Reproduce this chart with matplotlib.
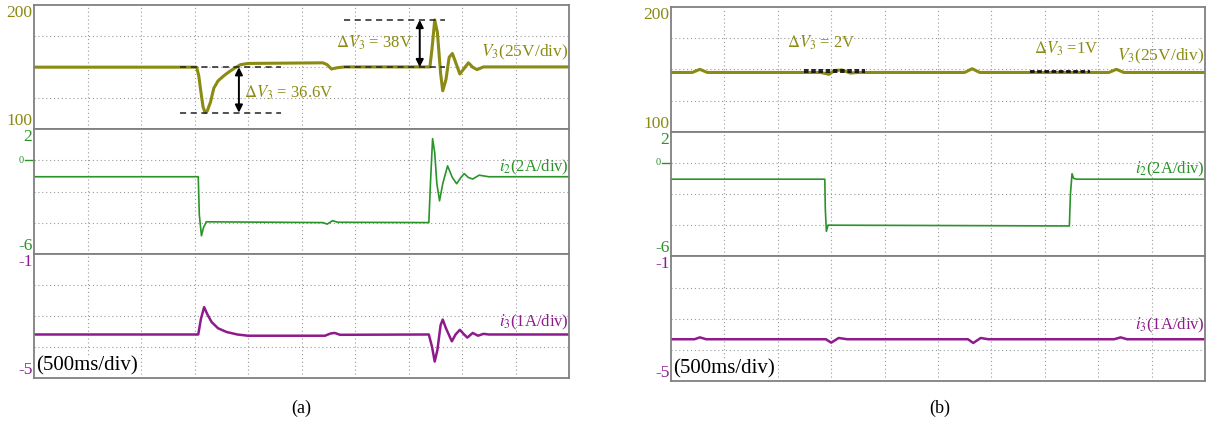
import matplotlib
matplotlib.use('Agg')
import matplotlib.pyplot as plt

plt.rcParams['font.family'] = ['Liberation Serif', 'DejaVu Serif']
plt.rcParams['mathtext.fontset'] = 'stix'

# ---------------- data (time in s, 500 ms/div, 10 div) ----------------
# Panel (a)
a_v3_t = [0.00, 1.52, 1.54, 1.56, 1.58, 1.60, 1.62, 1.65, 1.68, 1.72, 1.78, 1.83, 1.88, 1.93, 2.00,
          2.70, 2.74, 2.78, 2.83, 2.90, 3.70, 3.72, 3.745, 3.77, 3.80, 3.82, 3.85, 3.88, 3.91, 3.94,
          3.98, 4.02, 4.06, 4.10, 4.14, 4.20, 5.00]
a_v3_v = [150.0, 150.0, 143, 130, 118, 113.4, 115, 122, 133, 139, 143.5, 146.7, 149.5, 152, 153,
          153.5, 152, 148.5, 149.5, 150.2, 150.2, 165, 188, 178, 145, 131, 140, 158, 161, 154,
          144.5, 149, 153.5, 150, 148, 150.2, 150.2]

a_i2_t = [0.0, 1.535, 1.545, 1.565, 1.585, 1.61, 2.70, 2.74, 2.79, 2.84, 3.69, 3.705, 3.725, 3.745,
          3.765, 3.79, 3.82, 3.865, 3.91, 3.95, 3.99, 4.02, 4.06, 4.10, 4.16, 4.25, 5.0]
a_i2_v = [-1.05, -1.05, -3.5, -4.85, -4.3, -3.95, -4.0, -4.1, -3.88, -3.98, -4.0, -1.5, 1.4, 0.5,
          -1.5, -2.6, -1.5, -0.35, -1.1, -1.5, -1.1, -0.85, -1.1, -1.2, -0.95, -1.05, -1.05]

a_i3_t = [0.0, 1.535, 1.56, 1.59, 1.62, 1.66, 1.72, 1.80, 1.90, 2.00, 2.72, 2.77, 2.81, 2.86, 3.69,
          3.72, 3.745, 3.77, 3.80, 3.82, 3.85, 3.905, 3.94, 3.98, 4.02, 4.05, 4.10, 4.15, 4.20, 4.25, 5.0]
a_i3_v = [-3.6, -3.6, -3.1, -2.72, -2.95, -3.2, -3.4, -3.52, -3.6, -3.64, -3.64, -3.57, -3.55, -3.61, -3.6,
          -4.0, -4.47, -4.1, -3.3, -3.12, -3.4, -3.82, -3.6, -3.45, -3.6, -3.7, -3.55, -3.64, -3.58, -3.6, -3.6]

# Panel (b)
b_v3_t = [0.0, 0.20, 0.27, 0.34, 1.40, 1.48, 1.53, 1.60, 1.68, 1.75, 2.75, 2.82, 2.89, 4.10, 4.17, 4.24, 5.0]
b_v3_v = [147.5, 147.5, 150, 147.5, 147.5, 146, 149, 149.5, 147, 147.5, 147.5, 150.5, 147.5, 147.5, 150, 147.5, 147.5]

b_i2_t = [0.0, 1.44, 1.445, 1.455, 1.47, 3.73, 3.74, 3.755, 3.77, 3.80, 5.0]
b_i2_v = [-1.05, -1.05, -3.0, -4.4, -4.0, -4.05, -2.0, -0.7, -1.0, -1.05, -1.05]

b_i3_t = [0.0, 0.22, 0.27, 0.33, 1.45, 1.50, 1.57, 1.65, 2.78, 2.83, 2.90, 2.97, 4.15, 4.21, 4.27, 5.0]
b_i3_v = [-3.66, -3.66, -3.6, -3.66, -3.66, -3.77, -3.62, -3.66, -3.66, -3.78, -3.62, -3.66, -3.66, -3.6, -3.66, -3.66]

# annotation values
a_dv_drop = 36.6
a_dv_rise = 38.0
a_base = 150.0
b_base = 147.5
b_dv1 = 2.0
b_dv2 = 1.0

OLIVE = '#8b8a12'
GREEN = '#2a932a'
PURPLE = '#8e1a8e'
GRIDC = '#9a9a9a'
SPINE = '#808080'

W, H = 1208, 424
fig = plt.figure(figsize=(W / 100, H / 100), dpi=100)


def make_axes(left, right, top, bottom):
    h = (bottom - top) / 3.0
    axs = []
    for k in range(3):
        y0 = top + k * h
        ax = fig.add_axes([left / W, 1 - (y0 + h) / H, (right - left) / W, h / H])
        axs.append(ax)
    return axs


def style(ax, ylo, yhi):
    ax.set_xlim(0, 5)
    ax.set_ylim(ylo, yhi)
    ax.set_xticks([0.5 * i for i in range(1, 10)])
    step = (yhi - ylo) / 4
    ax.set_yticks([ylo + step * i for i in range(1, 4)])
    ax.grid(True, linestyle=(0, (1, 2.5)), color=GRIDC, lw=0.8)
    ax.tick_params(length=0, labelleft=False, labelbottom=False)
    for s in ax.spines.values():
        s.set_color(SPINE)
        s.set_linewidth(1.3)


def corner_labels(ax, top_txt, bot_txt, color):
    ax.text(-0.003, 1.0, top_txt, transform=ax.transAxes, ha='right', va='top',
            fontsize=12.5, color=color)
    ax.text(-0.003, 0.0, bot_txt, transform=ax.transAxes, ha='right', va='bottom',
            fontsize=12.5, color=color)


def zero_tick(ax):
    ax.plot([-0.016, 0], [0, 0], transform=ax.get_yaxis_transform(), color=GREEN,
            lw=1.0, clip_on=False)
    ax.text(-0.02, 0, '0', transform=ax.get_yaxis_transform(), ha='right', va='center',
            fontsize=7.5, color=GREEN)


def draw_panel(left, right, top, bottom, v3t, v3v, i2t, i2v, i3t, i3v, caption, capx, v3y):
    ax1, ax2, ax3 = make_axes(left, right, top, bottom)
    style(ax1, 100, 200)
    style(ax2, -6, 2)
    style(ax3, -5, -1)
    ax1.plot(v3t, v3v, color=OLIVE, lw=2.2, solid_joinstyle='round')
    ax2.plot(i2t, i2v, color=GREEN, lw=1.2)
    ax3.plot(i3t, i3v, color=PURPLE, lw=1.8)
    corner_labels(ax1, '200', '100', OLIVE)
    corner_labels(ax2, '2', '-6', GREEN)
    corner_labels(ax3, '-1', '-5', PURPLE)
    zero_tick(ax2)
    ax1.text(4.995, v3y, r'$V_3$(25V/div)', ha='right', va='center', fontsize=12.5, color=OLIVE)
    ax2.text(4.995, -0.45, r'$i_2$(2A/div)', ha='right', va='center', fontsize=12, color=GREEN)
    ax3.text(4.995, -3.2, r'$i_3$(1A/div)', ha='right', va='center', fontsize=12, color=PURPLE)
    ax3.text(0.004, 0.02, '(500ms/div)', transform=ax3.transAxes, ha='left', va='bottom',
             fontsize=15, color='black',
             bbox=dict(facecolor='white', edgecolor='none', pad=0.5))
    fig.text(capx / W, 1 - 408 / H, caption, ha='center', va='center', fontsize=13)
    return ax1, ax2, ax3


# ---------- panel (a) ----------
a1, a2, a3 = draw_panel(34, 569, 5, 378, a_v3_t, a_v3_v, a_i2_t, a_i2_v, a_i3_t, a_i3_v,
                        '(a)', 301, 162)
dash = dict(color='#222222', lw=1.1, ls=(0, (4, 3)))
a1.plot([1.36, 2.31], [a_base, a_base], **dash)
a1.plot([1.36, 2.31], [a_base - a_dv_drop, a_base - a_dv_drop], **dash)
a1.annotate('', xy=(1.915, a_base - a_dv_drop), xytext=(1.915, a_base),
            arrowprops=dict(arrowstyle='<|-|>', color='black', lw=1.4, mutation_scale=11,
                            shrinkA=0, shrinkB=0))
a1.text(1.96, 129.5, r'$\Delta V_3$ = 36.6V', ha='left', va='center', fontsize=12, color=OLIVE)
a1.plot([2.90, 3.84], [a_base + a_dv_rise, a_base + a_dv_rise], **dash)
a1.plot([2.90, 3.84], [a_base, a_base], **dash)
a1.annotate('', xy=(3.605, a_base + a_dv_rise), xytext=(3.605, a_base),
            arrowprops=dict(arrowstyle='<|-|>', color='black', lw=1.4, mutation_scale=11,
                            shrinkA=0, shrinkB=0))
a1.text(3.54, 169.5, r'$\Delta V_3$ = 38V', ha='right', va='center', fontsize=12, color=OLIVE)

# ---------- panel (b) ----------
b1, b2, b3 = draw_panel(671, 1205, 7, 381, b_v3_t, b_v3_v, b_i2_t, b_i2_v, b_i3_t, b_i3_v,
                        '(b)', 940, 160)
dashb = dict(color='#111111', lw=1.3, ls=(0, (2.5, 1.5)))
b1.plot([1.245, 1.815], [b_base + 1 + b_dv1 / 2, b_base + 1 + b_dv1 / 2], **dashb)
b1.plot([1.245, 1.815], [b_base + 1 - b_dv1 / 2, b_base + 1 - b_dv1 / 2], **dashb)
b1.text(1.09, 171, r'$\Delta V_3$ = 2V', ha='left', va='center', fontsize=12, color=OLIVE)
b1.plot([3.36, 3.92], [b_base + 1 + b_dv2 / 2, b_base + 1 + b_dv2 / 2], **dashb)
b1.plot([3.36, 3.92], [b_base + 1 - b_dv2 / 2, b_base + 1 - b_dv2 / 2], **dashb)
b1.text(3.40, 166.5, r'$\Delta V_3$ =1V', ha='left', va='center', fontsize=12, color=OLIVE)

fig.savefig('out.png', dpi=100, facecolor='white')
